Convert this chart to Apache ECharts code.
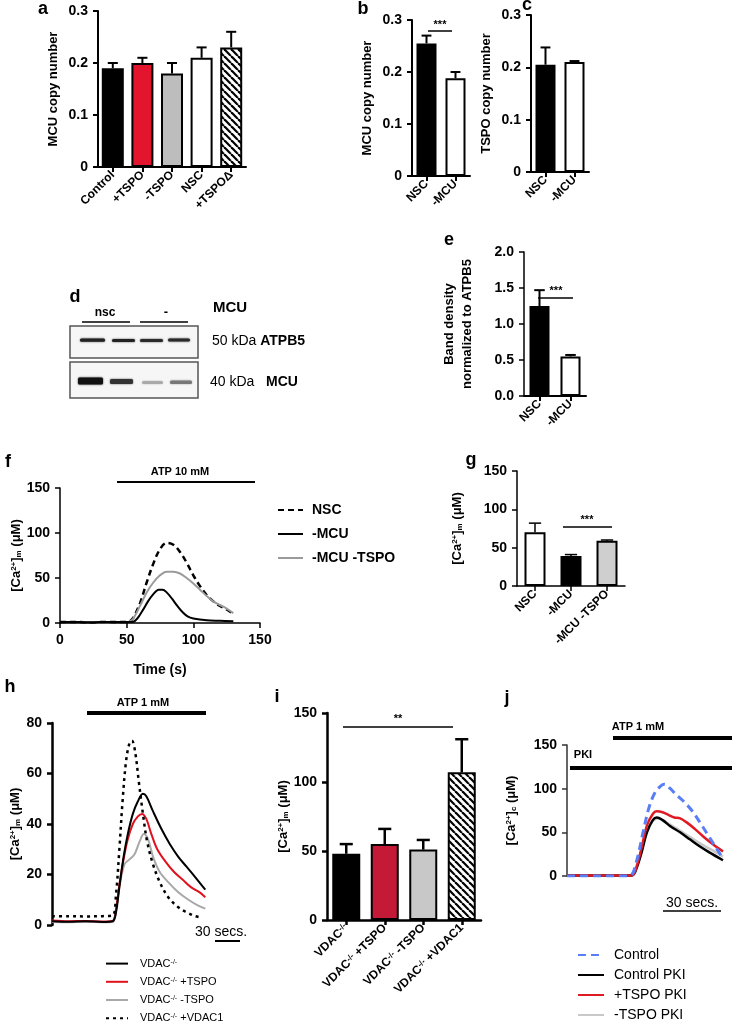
<!DOCTYPE html>
<html><head><meta charset="utf-8">
<script src="https://cdn.jsdelivr.net/npm/echarts@6/dist/echarts.min.js"></script>
<style>html,body{margin:0;padding:0;background:#fff}#c{width:732px;height:1031px}</style>
</head><body><div id="c"></div>
<script>
const FONT = '"Liberation Sans", Arial, Helvetica, sans-serif';
// ---------- DATA ----------
// a
const aCats = ['Control', '+TSPO', '-TSPO', 'NSC', '+TSPOΔ'];
const aMean = [0.19, 0.20, 0.18, 0.21, 0.23];
const aErr = [0.20, 0.21, 0.20, 0.23, 0.26];
// b
const bCats = ['NSC', '-MCU'];
const bMean = [0.255, 0.188];
const bErr = [0.27, 0.20];
// c
const cCats = ['NSC', '-MCU'];
const cMean = [0.205, 0.21];
const cErr = [0.238, 0.212];
// e
const eCats = ['NSC', '-MCU'];
const eMean = [1.25, 0.55];
const eErr = [1.47, 0.57];
// f  (time s, [Ca2+]m µM)
const fNSC = [[0,1],[10,1.2],[20,0.8],[30,1],[40,1.1],[50,1],[52,1.5],[55,6],[60,22],[65,45],[70,66],[75,82],[80,89],[85,87],[90,79],[95,67],[100,53],[105,41],[110,31],[115,24],[120,19],[125,15],[130,10]];
const fMCU = [[0,1],[10,1.1],[20,0.9],[30,1],[40,1],[50,1],[55,1.5],[58,5],[62,14],[66,24],[70,32],[74,37],[77,37],[80,34],[84,27],[88,19],[92,12],[96,7],[100,5],[110,3],[120,2.5],[130,2]];
const fMCUTSPO = [[0,1],[10,1],[20,1.1],[30,0.9],[40,1],[50,1],[52,1.5],[55,5],[60,19],[65,34],[70,45],[75,53],[80,57],[85,57],[90,55],[95,50],[100,44],[105,37],[110,30],[115,24],[120,20],[125,16],[130,11]];
const fLegend = ['NSC', '-MCU', '-MCU -TSPO'];
// g
const gCats = ['NSC', '-MCU', '-MCU -TSPO'];
const gMean = [70, 39, 59];
const gErr = [82, 41, 60];
// h  (time s, [Ca2+]m µM)
const hVDAC = [[0,1.5],[20,1.3],[40,1.5],[60,1.2],[72,1.5],[76,5],[80,15],[85,27],[90,36],[96,44],[102,49],[108,52],[112,51],[120,45],[130,38],[140,32],[150,27],[160,23],[170,19],[182,14]];
const hTSPOp = [[0,1.8],[20,1.5],[40,1.6],[60,1.4],[72,1.6],[76,6],[80,16],[85,26],[90,34],[96,40],[102,43],[107,44],[112,42],[118,36],[125,30],[135,25],[145,21],[155,18],[165,15],[175,13],[182,11]];
const hTSPOm = [[0,1.2],[20,1.1],[40,1.2],[60,1.1],[72,1.2],[76,6],[80,15],[86,24],[92,26],[98,28],[104,33],[109,36],[114,34],[120,27],[128,21],[138,17],[150,13],[162,10],[172,8],[182,6.5]];
const hVDAC1 = [[0,3.5],[20,3.5],[40,3.4],[60,3.5],[72,3.8],[76,12],[80,30],[84,50],[88,65],[92,72],[95,73],[99,68],[103,57],[108,44],[113,33],[120,24],[128,17],[138,11],[150,7],[160,5],[170,3.5],[178,3]];
const hLegend = ['VDAC-/-', 'VDAC-/- +TSPO', 'VDAC-/- -TSPO', 'VDAC-/- +VDAC1'];
// i
const iCats = ['VDAC-/-', 'VDAC-/- +TSPO', 'VDAC-/- -TSPO', 'VDAC-/- +VDAC1'];
const iMean = [48, 55, 51, 107];
const iErr = [55, 66, 58, 131];
// j  (time s, [Ca2+]c µM)
const jControl = [[0,0],[10,0],[20,0],[30,0],[33,1],[36,20],[39,50],[42,78],[45,95],[48,103],[50,105],[53,100],[56,93],[60,85],[64,75],[68,62],[72,48],[76,34],[80,20]];
const jControlPKI = [[0,0.5],[10,0.5],[20,0.5],[33,0.5],[35,5],[38,25],[41,50],[44,64],[46,67],[49,64],[53,57],[58,50],[63,42],[68,34],[73,27],[80,18]];
const jTSPOpPKI = [[0,0.5],[10,0.5],[20,0.5],[33,0.5],[35,6],[38,30],[41,58],[44,71],[46,74],[49,73],[52,70],[55,67],[58,66],[61,62],[65,55],[70,45],[75,36],[80,28]];
const jTSPOmPKI = [[0,0.5],[10,0.5],[20,0.5],[33,0.5],[35,6],[38,28],[41,52],[44,63],[47,66],[50,63],[55,56],[60,49],[65,42],[70,35],[75,29],[80,22]];
const jLegend = ['Control', 'Control PKI', '+TSPO PKI', '-TSPO PKI'];

// ---------- STYLE HELPERS ----------
function hatch() {
  const s = 7, cv = document.createElement('canvas');
  cv.width = s; cv.height = s;
  const ctx = cv.getContext('2d');
  ctx.fillStyle = '#fff'; ctx.fillRect(0, 0, s, s);
  ctx.strokeStyle = '#000'; ctx.lineWidth = 2.2;
  for (let k = -1; k <= 1; k++) { ctx.beginPath(); ctx.moveTo(k * s, 0); ctx.lineTo(k * s + s, s); ctx.stroke(); }
  return { image: cv, repeat: 'repeat' };
}
const HATCH = hatch();
const RICH = {
  n: { fontFamily: FONT, fontWeight: 'bold', fontSize: 13, color: '#000' },
  s: { fontFamily: FONT, fontWeight: 'bold', fontSize: 8, color: '#000', verticalAlign: 'top' },
  sb: { fontFamily: FONT, fontWeight: 'bold', fontSize: 8, color: '#000', verticalAlign: 'bottom' }
};
const CA_M = '{n|[Ca}{s|2+}{n|]}{sb|m}{n| (μM)}';
const CA_C = '{n|[Ca}{s|2+}{n|]}{sb|c}{n| (μM)}';
function supFmt(str, cls) {
  const p = str.split('-/-');
  return '{' + cls + '|' + p[0] + '}{' + cls + 's|-/-}' + (p[1] ? '{' + cls + '|' + p[1] + '}' : '');
}
function grid(l, t, w, h) { return { left: l, top: t, width: w, height: h, containLabel: false, outerBoundsMode: 'none' }; }
function yAx(gi, min, max, interval, name, nameGap, lw, extra) {
  return Object.assign({
    type: 'value', gridIndex: gi, min, max, interval, name, nameLocation: 'middle', nameGap, nameRotate: 90,
    nameTextStyle: { fontFamily: FONT, fontWeight: 'bold', fontSize: 13, color: '#000', rich: RICH },
    axisLine: { show: true, lineStyle: { color: '#000', width: lw } },
    axisTick: { show: true, length: 5, lineStyle: { color: '#000', width: lw } },
    axisLabel: { fontFamily: FONT, fontWeight: 'bold', fontSize: 14, color: '#000', margin: 10 },
    splitLine: { show: false }
  }, extra || {});
}
function xCat(gi, data, lw, extra) {
  return Object.assign({
    type: 'category', gridIndex: gi, data,
    axisLine: { show: true, lineStyle: { color: '#000', width: lw } },
    axisTick: { show: true, alignWithLabel: true, length: 5, lineStyle: { color: '#000', width: lw } },
    axisLabel: { rotate: 45, interval: 0, fontFamily: FONT, fontWeight: 'bold', fontSize: 12, color: '#000', margin: 6 },
    splitLine: { show: false }
  }, extra || {});
}
function bars(ax, means, colors, bw) {
  return {
    type: 'bar', xAxisIndex: ax, yAxisIndex: ax, barWidth: bw, z: 3,
    data: means.map((v, i) => ({ value: v, itemStyle: { color: colors[i] } })),
    itemStyle: { borderColor: '#000', borderWidth: 2 }
  };
}
function errs(ax, means, tops, lw) {
  return {
    type: 'custom', xAxisIndex: ax, yAxisIndex: ax, z: 2,
    data: means.map((m, i) => [i, m, tops[i]]),
    renderItem: (p, api) => {
      const x = api.value(0), p1 = api.coord([x, api.value(1)]), p2 = api.coord([x, api.value(2)]);
      const w = api.size([1, 0])[0] * 0.17;
      const st = { stroke: '#000', lineWidth: lw || 2 };
      return { type: 'group', children: [
        { type: 'line', shape: { x1: p1[0], y1: p1[1], x2: p2[0], y2: p2[1] }, style: st },
        { type: 'line', shape: { x1: p2[0] - w, y1: p2[1], x2: p2[0] + w, y2: p2[1] }, style: st }
      ] };
    }
  };
}
function line(ax, name, data, color, width, type) {
  return {
    type: 'line', name, xAxisIndex: ax, yAxisIndex: ax, data, showSymbol: false, symbol: 'none',
    smooth: 0.35, lineStyle: { color, width, type: type || 'solid' }, itemStyle: { color }
  };
}
function T(x, y, text, size, weight, extra) {
  return { type: 'text', x, y, style: Object.assign({ text, fontFamily: FONT, fontSize: size, fontWeight: weight || 'bold', fill: '#000', align: 'center', verticalAlign: 'middle' }, extra || {}) };
}
function L(x1, y1, x2, y2, w, color) {
  return { type: 'line', shape: { x1, y1, x2, y2 }, style: { stroke: color || '#000', lineWidth: w } };
}
function R(x, y, w, h, fill, blur) {
  return { type: 'rect', shape: { x, y, width: w, height: h, r: 1.5 }, style: { fill, shadowBlur: 2, shadowColor: blur } };
}

// ---------- CHART ----------
const chart = echarts.init(document.getElementById('c'), null, { renderer: 'canvas' });
const grids = [
  grid(98, 11, 148, 156),   // 0 a
  grid(412, 20, 58, 156),   // 1 b
  grid(531, 15, 58, 157),   // 2 c
  grid(524, 252, 62, 144),  // 3 e
  grid(60, 488, 200, 135),  // 4 f
  grid(517, 471, 108, 115), // 5 g
  grid(52, 723, 160, 202),  // 6 h
  grid(327, 713, 154, 207), // 7 i
  grid(567, 745, 156, 131)  // 8 j
];
const xAxes = [
  xCat(0, aCats, 2),
  xCat(1, bCats, 2),
  xCat(2, cCats, 2),
  xCat(3, eCats, 2),
  { type: 'value', gridIndex: 4, min: 0, max: 150, interval: 50, name: 'Time (s)', nameLocation: 'middle', nameGap: 40,
    nameTextStyle: { fontFamily: FONT, fontWeight: 'bold', fontSize: 14, color: '#000' },
    axisLine: { lineStyle: { color: '#000', width: 1.5 } }, axisTick: { length: 5, lineStyle: { color: '#000', width: 1.5 } },
    axisLabel: { fontFamily: FONT, fontWeight: 'bold', fontSize: 14, color: '#000', margin: 10 }, splitLine: { show: false } },
  xCat(5, gCats, 1.5),
  { type: 'value', gridIndex: 6, min: 0, max: 190, show: false },
  xCat(7, iCats, 2.5, { axisLabel: { rotate: 45, interval: 0, margin: 6, formatter: v => supFmt(v, 'x'),
    rich: { x: { fontFamily: FONT, fontWeight: 'bold', fontSize: 12, color: '#000' }, xs: { fontFamily: FONT, fontWeight: 'bold', fontSize: 8, color: '#000', verticalAlign: 'top' } } } }),
  { type: 'value', gridIndex: 8, min: 0, max: 80, show: false }
];
const yAxes = [
  yAx(0, 0, 0.3, 0.1, 'MCU copy number', 38, 2),
  yAx(1, 0, 0.3, 0.1, 'MCU copy number', 38, 2),
  yAx(2, 0, 0.3, 0.1, 'TSPO copy number', 38, 2),
  yAx(3, 0, 2, 0.5, 'Band density\nnormalized to ATPB5', 48, 1.5, { axisLabel: { fontFamily: FONT, fontWeight: 'bold', fontSize: 14, color: '#000', margin: 10, formatter: v => v.toFixed(1) },
    nameTextStyle: { fontFamily: FONT, fontWeight: 'bold', fontSize: 13, color: '#000', lineHeight: 18 } }),
  yAx(4, 0, 150, 50, CA_M, 35, 1.5),
  yAx(5, 0, 150, 50, CA_M, 53, 1.5),
  yAx(6, 0, 80, 20, CA_M, 30, 2.5),
  yAx(7, 0, 150, 50, CA_M, 37, 2.5),
  yAx(8, 0, 150, 50, CA_C, 49, 1.5, { axisLine: { lineStyle: { color: '#333', width: 1.5 } }, axisTick: { length: 5, lineStyle: { color: '#333', width: 1.5 } } })
];
const series = [
  bars(0, aMean, ['#000', '#e3142d', '#bdbdbd', '#fff', HATCH], 22), errs(0, aMean, aErr),
  bars(1, bMean, ['#000', '#fff'], 20), errs(1, bMean, bErr),
  bars(2, cMean, ['#000', '#fff'], 20), errs(2, cMean, cErr),
  bars(3, eMean, ['#000', '#fff'], 20), errs(3, eMean, eErr),
  line(4, 'NSC', fNSC, '#000', 2.5, [6, 4]),
  line(4, '-MCU -TSPO', fMCUTSPO, '#9a9a9a', 2),
  line(4, '-MCU', fMCU, '#000', 2),
  bars(5, gMean, ['#fff', '#000', '#cfcfcf'], 21), errs(5, gMean, gErr, 1.5),
  line(6, 'VDAC-/- -TSPO', hTSPOm, '#a8a8a8', 2),
  line(6, 'VDAC-/- +TSPO', hTSPOp, '#e0101e', 2),
  line(6, 'VDAC-/-', hVDAC, '#000', 2),
  line(6, 'VDAC-/- +VDAC1', hVDAC1, '#000', 2.5, [3, 4]),
  bars(7, iMean, ['#000', '#c41a38', '#c8c8c8', HATCH], 28), errs(7, iMean, iErr, 2.5),
  line(8, '-TSPO PKI', jTSPOmPKI, '#c8c8c8', 2.5),
  line(8, 'Control PKI', jControlPKI, '#000', 2.5),
  line(8, '+TSPO PKI', jTSPOpPKI, '#e01a22', 2.5),
  line(8, 'Control', jControl, '#5a7ef5', 3, [8, 5])
];
const legTxt = (size, weight) => ({ fontFamily: FONT, fontSize: size, fontWeight: weight, color: '#000' });
const HIDE_SYM = { opacity: 0, borderWidth: 0 };
const legends = [
  { data: fLegend, itemStyle: HIDE_SYM, orient: 'vertical', left: 277, top: 503, padding: 0, height: 90, itemWidth: 25, itemHeight: 14, itemGap: 10, textStyle: Object.assign(legTxt(14, 'bold'), { padding: [0, 0, 0, 4] }), selectedMode: false },
  { data: hLegend, itemStyle: HIDE_SYM, orient: 'vertical', left: 105, top: 958, padding: 0, height: 72, itemWidth: 22, itemHeight: 14, itemGap: 7, selectedMode: false,
    formatter: nm => supFmt(nm, 'l'),
    textStyle: Object.assign(legTxt(11, 'normal'), { padding: [0, 0, 0, 7], rich: { l: { fontFamily: FONT, fontSize: 11, color: '#000' }, ls: { fontFamily: FONT, fontSize: 7, color: '#000', verticalAlign: 'top' } } }) },
  { data: jLegend, itemStyle: HIDE_SYM, orient: 'vertical', left: 577, top: 948, padding: 0, height: 82, itemWidth: 26, itemHeight: 14, itemGap: 6, textStyle: Object.assign(legTxt(14, 'normal'), { padding: [0, 0, 0, 5] }), selectedMode: false }
];
const graphic = [
  // panel letters
  T(43, 9, 'a', 18), T(363, 9, 'b', 18), T(527, 5, 'c', 18), T(75, 297, 'd', 18), T(449, 240, 'e', 18),
  T(8, 462, 'f', 18), T(471, 460, 'g', 18), T(10, 687, 'h', 18), T(277, 697, 'i', 18), T(507, 698, 'j', 18),
  // significance
  L(428, 31, 452, 31, 1.5), T(440, 25, '***', 11),
  L(538, 298, 573, 298, 1.5), T(556, 291, '***', 11),
  L(563, 527, 612, 527, 1.5), T(587, 520, '***', 11),
  L(343, 727, 453, 727, 1.5), T(398, 719, '**', 11),
  // stimulus bars
  T(180, 472, 'ATP 10 mM', 11), L(117, 482, 255, 482, 1.8),
  T(143, 703, 'ATP 1 mM', 11), L(87, 713, 206, 713, 4),
  T(638, 727, 'ATP 1 mM', 11), L(613, 738, 732, 738, 4),
  T(583, 755, 'PKI', 11), L(570, 768, 732, 768, 4),
  // scale bars
  T(221, 932, '30 secs.', 14, 'normal'), L(215, 941, 240, 941, 2),
  T(692, 903, '30 secs.', 14, 'normal'), L(663, 911, 721, 911, 1.5),
  // western blot d
  T(105, 313, 'nsc', 12), T(166, 312, '-', 13),
  L(82, 322, 130, 322, 1.5), L(140, 322, 188, 322, 1.5),
  T(213, 308, 'MCU', 15, 'bold', { align: 'left' }),
  { type: 'rect', shape: { x: 70, y: 326, width: 128, height: 32 }, style: { fill: '#f6f6f6', stroke: '#555', lineWidth: 1.5 } },
  { type: 'rect', shape: { x: 70, y: 362, width: 128, height: 36 }, style: { fill: '#f6f6f6', stroke: '#555', lineWidth: 1.5 } },
  R(80, 338.5, 25, 3.2, '#222', '#444'),
  R(112, 339, 23, 3, '#222', '#444'),
  R(140, 339, 23, 3, '#2a2a2a', '#444'),
  R(168, 338.5, 22, 3, '#2a2a2a', '#444'),
  R(78, 377.5, 25, 7, '#111', '#333'),
  R(110, 379, 23, 5, '#333', '#555'),
  R(142, 381, 21, 3, '#aaa', '#bbb'),
  R(170, 380.5, 22, 3.5, '#777', '#999'),
  { type: 'text', x: 212, y: 341, style: { text: '{r|50 kDa }{b|ATPB5}', verticalAlign: 'middle', rich: { r: { fontFamily: FONT, fontSize: 14, fill: '#000' }, b: { fontFamily: FONT, fontSize: 14, fontWeight: 'bold', fill: '#000' } } } },
  { type: 'text', x: 210, y: 382, style: { text: '{r|40 kDa   }{b|MCU}', verticalAlign: 'middle', rich: { r: { fontFamily: FONT, fontSize: 14, fill: '#000' }, b: { fontFamily: FONT, fontSize: 14, fontWeight: 'bold', fill: '#000' } } } }
];
chart.setOption({
  animation: false,
  backgroundColor: '#fff',
  grid: grids, xAxis: xAxes, yAxis: yAxes, series, legend: legends, graphic
});
</script></body></html>
